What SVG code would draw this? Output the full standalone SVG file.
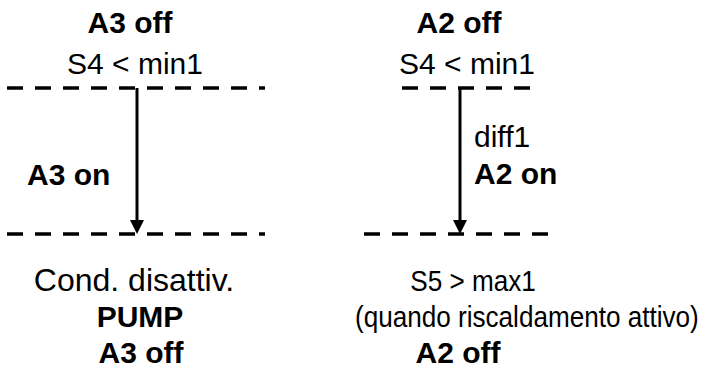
<svg xmlns="http://www.w3.org/2000/svg" width="705" height="372" viewBox="0 0 705 372">
<defs>
<style>
text{font-family:"Liberation Sans",Arial,sans-serif;font-size:30px;fill:#000}
.b{font-weight:bold}
.m{text-anchor:middle}
.dash{stroke:#000;stroke-width:3.5;stroke-dasharray:16 12;fill:none}
.shaft{stroke:#000;stroke-width:3;fill:none}
.head{fill:#000}
</style>
</defs>
<g id="connectors">
<line class="dash" x1="7" y1="88" x2="265" y2="88"/>
<line class="dash" x1="7" y1="234" x2="265" y2="234"/>
<line class="dash" x1="402" y1="88" x2="530" y2="88"/>
<line class="dash" x1="364" y1="234" x2="548" y2="234"/>
<path class="shaft" d="M137,88 V220"/>
<path class="head" d="M130,220 L144,220 L137,234 Z"/>
<path class="shaft" d="M460,88 V220"/>
<path class="head" d="M453,220 L467,220 L460,234 Z"/>
</g>
<g id="left-top">
<text class="b m" x="130" y="33">A3 off</text>
<text class="m" x="135" y="74">S4 &lt; min1</text>
</g>
<g id="left-mid">
<text class="b" x="27" y="185">A3 on</text>
</g>
<g id="left-bottom">
<text class="m" x="134" y="291" style="font-size:32px">Cond. disattiv.</text>
<text class="b m" x="140" y="327">PUMP</text>
<text class="b m" x="141" y="363">A3 off</text>
</g>
<g id="right-top">
<text class="b m" x="459" y="33">A2 off</text>
<text class="m" x="467" y="74">S4 &lt; min1</text>
</g>
<g id="right-mid">
<text x="474" y="147">diff1</text>
<text class="b" x="474" y="184">A2 on</text>
</g>
<g id="right-bottom">
<text class="m" transform="translate(473,291) scale(0.87,1)">S5 &gt; max1</text>
<text transform="translate(355,327) scale(0.87,1)">(quando riscaldamento attivo)</text>
<text class="b m" x="458" y="363">A2 off</text>
</g>
</svg>
